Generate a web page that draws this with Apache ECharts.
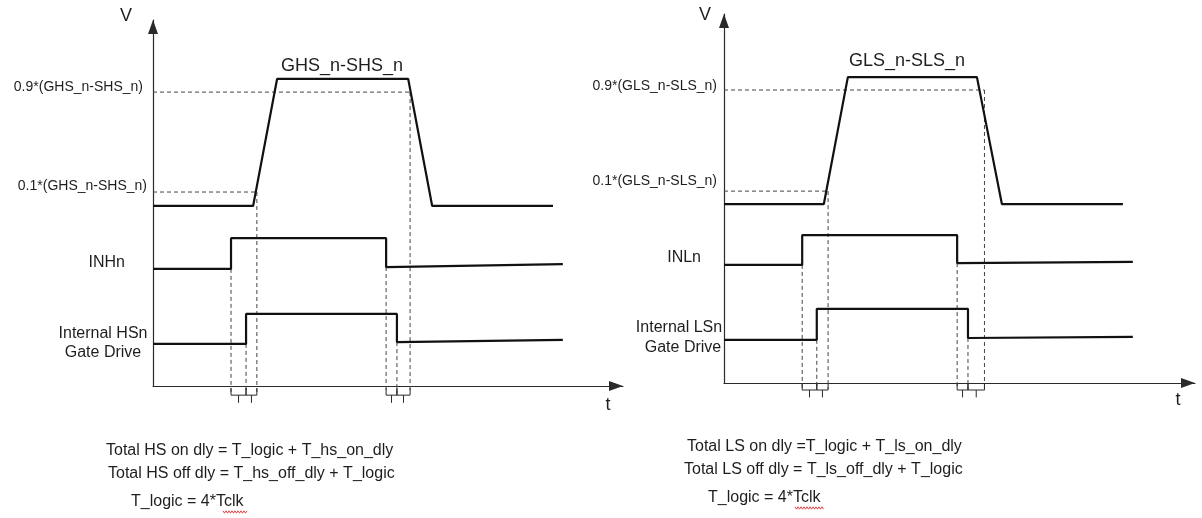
<!DOCTYPE html>
<html><head><meta charset="utf-8">
<script src="https://cdn.jsdelivr.net/npm/echarts@6/dist/echarts.min.js"></script>
<style>html,body{margin:0;padding:0;background:#fff}#c{width:1202px;height:518px}</style>
</head><body><div id="c"></div>
<script>
// ===== Data (time in % of t-axis, level in % of V-axis) =====
// High side panel
const hsGate   = [[0,49.2],[21.3,49.2],[26.4,83.9],[54.3,83.9],[59.4,49.2],[85.1,49.2]];
const hsInput  = [[0,32.0],[16.6,32.0],[16.6,40.4],[49.6,40.4],[49.6,32.5],[87.2,33.3]];
const hsDrive  = [[0,11.5],[19.8,11.5],[19.8,19.7],[51.9,19.7],[51.9,12.0],[87.2,12.6]];
const hsThr90  = [[0,80.3],[54.7,80.3]];
const hsThr10  = [[0,53.0],[22.1,53.0]];
const hsEdges  = [[16.6,32.0],[19.8,11.5],[22.1,53.0],[49.6,32.5],[51.9,12.0],[54.7,80.3]];
const hsDelays = [[16.6,19.8],[19.8,22.1],[49.6,51.9],[51.9,54.7]];
// Low side panel
const lsGate   = [[0,48.5],[21.2,48.5],[26.3,82.9],[53.7,82.9],[59.0,48.5],[84.7,48.5]];
const lsInput  = [[0,32.0],[16.6,32.0],[16.6,40.1],[49.5,40.1],[49.5,32.5],[86.8,32.8]];
const lsDrive  = [[0,11.7],[19.7,11.7],[19.7,20.1],[51.8,20.1],[51.8,12.2],[86.8,12.5]];
const lsThr90  = [[0,79.4],[55.3,79.4]];
const lsThr10  = [[0,52.0],[22.1,52.0]];
const lsEdges  = [[16.6,32.0],[19.7,11.7],[22.1,52.0],[49.5,32.5],[51.8,12.2],[55.3,79.4]];
const lsDelays = [[16.6,19.7],[19.7,22.1],[49.5,51.8],[51.8,55.3]];
// Texts
const hsLabels = {v:'V', t:'t', thr90:'0.9*(GHS_n-SHS_n)', thr10:'0.1*(GHS_n-SHS_n)', gate:'GHS_n-SHS_n', input:'INHn', drive:['Internal HSn','Gate Drive']};
const lsLabels = {v:'V', t:'t', thr90:'0.9*(GLS_n-SLS_n)', thr10:'0.1*(GLS_n-SLS_n)', gate:'GLS_n-SLS_n', input:'INLn', drive:['Internal LSn','Gate Drive']};
const hsNotes = ['Total HS on dly = T_logic + T_hs_on_dly','Total HS off dly = T_hs_off_dly + T_logic','T_logic = 4*Tclk'];
const lsNotes = ['Total LS on dly =T_logic + T_ls_on_dly','Total LS off dly = T_ls_off_dly + T_logic','T_logic = 4*Tclk'];

// ===== Rendering =====
const FONT = 'Liberation Sans, Arial, sans-serif';
const AX = '#2a2a2a', WAVE = '#111', DASH = '#444';
const chart = echarts.init(document.getElementById('c'), null, {renderer:'canvas'});

function axes(i){
  const line = ()=>({show:true, lineStyle:{color:AX,width:1.2}, symbol:['none','triangle'], symbolSize:[10,14], symbolOffset:[0,-7]});
  return {
    x:{type:'value', gridIndex:i, min:0, max:100, axisLine:line(), axisTick:{show:false}, axisLabel:{show:false}, splitLine:{show:false}},
    y:{type:'value', gridIndex:i, min:0, max:100, axisLine:line(), axisTick:{show:false}, axisLabel:{show:false}, splitLine:{show:false}}
  };
}
function panelSeries(i, gate, input, drive, t90, t10, edges, delays, br){
  const wave = (d)=>({type:'line', xAxisIndex:i, yAxisIndex:i, data:d, symbol:'none', lineStyle:{color:WAVE,width:2.2}, z:5, animation:false});
  const dash = (d)=>({type:'line', xAxisIndex:i, yAxisIndex:i, data:d, symbol:'none', lineStyle:{color:DASH,width:1,type:[4,3]}, z:3, animation:false});
  const verticals = edges.map(e=>({coords:[[e[0],e[1]],[e[0],br.dashEnd]]}));
  const braces = [];
  delays.forEach(d=>{
    const m=(d[0]+d[1])/2;
    braces.push({coords:[[d[0],br.top],[d[0],br.bot],[d[1],br.bot],[d[1],br.top]]});
    braces.push({coords:[[m,br.bot],[m,br.tick]]});
  });
  return [
    wave(gate), wave(input), wave(drive), dash(t90), dash(t10),
    {type:'lines', coordinateSystem:'cartesian2d', xAxisIndex:i, yAxisIndex:i, polyline:true, clip:false, data:verticals,
     lineStyle:{color:DASH,width:1,type:[4,3],opacity:1}, z:2, animation:false},
    {type:'lines', coordinateSystem:'cartesian2d', xAxisIndex:i, yAxisIndex:i, polyline:true, clip:false, data:braces,
     lineStyle:{color:AX,width:1,opacity:1}, z:2, animation:false}
  ];
}
function txt(x,y,text,size,align){
  return {type:'text', x:x, y:y, z:10, style:{text:text, fill:'#1e1e1e', font:size+'px '+FONT, textAlign:align||'left', textVerticalAlign:'middle'}};
}
function zigzag(x0,x1,y){
  const pts=[]; let k=0;
  for(let x=x0;x<=x1;x+=1.5){pts.push([x, y+(k%2?1.2:-1.2)]);k++;}
  return {type:'polyline', z:10, shape:{points:pts}, style:{stroke:'#d33', lineWidth:0.9, fill:null}};
}

const a0=axes(0), a1=axes(1);
const graphics = [
  // left panel
  txt(126,16,hsLabels.v,18,'center'), txt(608,405,hsLabels.t,18,'center'),
  txt(143,87,hsLabels.thr90,14,'right'), txt(147,186,hsLabels.thr10,14,'right'),
  txt(281,66,hsLabels.gate,18,'left'), txt(125,263,hsLabels.input,16,'right'),
  txt(103,334,hsLabels.drive[0],16,'center'), txt(103,353,hsLabels.drive[1],16,'center'),
  txt(106,451,hsNotes[0],16,'left'), txt(108,474,hsNotes[1],16,'left'), txt(131,502,hsNotes[2],16,'left'),
  zigzag(223,247,512),
  // right panel
  txt(705,15,lsLabels.v,18,'center'), txt(1178,400,lsLabels.t,18,'center'),
  txt(717,86,lsLabels.thr90,14,'right'), txt(717,181,lsLabels.thr10,14,'right'),
  txt(849,61,lsLabels.gate,18,'left'), txt(701,258,lsLabels.input,16,'right'),
  txt(679,328,lsLabels.drive[0],16,'center'), txt(683,348,lsLabels.drive[1],16,'center'),
  txt(687,447,lsNotes[0],16,'left'), txt(684,470,lsNotes[1],16,'left'), txt(708,498,lsNotes[2],16,'left'),
  zigzag(795,824,508)
];

chart.setOption({
  backgroundColor:'#fff',
  animation:false,
  grid:[
    {left:153, top:20, width:470, height:366},
    {left:724, top:14, width:471, height:369}
  ],
  xAxis:[a0.x, a1.x],
  yAxis:[a0.y, a1.y],
  series:[
    ...panelSeries(0, hsGate, hsInput, hsDrive, hsThr90, hsThr10, hsEdges, hsDelays, {dashEnd:-2.0, top:-0.6, bot:-2.5, tick:-4.6}),
    ...panelSeries(1, lsGate, lsInput, lsDrive, lsThr90, lsThr10, lsEdges, lsDelays, {dashEnd:-1.6, top:-0.2, bot:-1.9, tick:-3.9})
  ],
  graphic: graphics
});
</script></body></html>
